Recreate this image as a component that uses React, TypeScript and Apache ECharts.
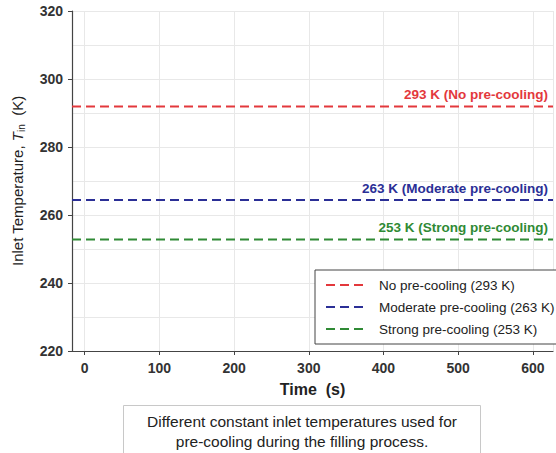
import React, { useEffect, useRef } from "react";
import * as echarts from "echarts";

const timeRange = [-17, 627];
const noPreCooling = [291.9, 291.9];
const moderatePreCooling = [264.4, 264.4];
const strongPreCooling = [252.8, 252.8];

const seriesNames = [
  "No pre-cooling (293 K)",
  "Moderate pre-cooling (263 K)",
  "Strong pre-cooling (253 K)",
];
const annotations = [
  "293 K (No pre-cooling)",
  "263 K (Moderate pre-cooling)",
  "253 K (Strong pre-cooling)",
];
const colors = ["#e3383c", "#2b2f96", "#2f8a35"];
const seriesValues = [noPreCooling, moderatePreCooling, strongPreCooling];

const FONT = "Arial, 'Liberation Sans', Helvetica, sans-serif";

export default function App() {
  const ref = useRef<HTMLDivElement>(null);
  useEffect(() => {
    if (!ref.current) return;
    const chart = echarts.init(ref.current, undefined, { renderer: "svg" });
    const series = seriesValues.map((vals, k) => ({
      name: seriesNames[k],
      type: "line",
      symbol: "none",
      data: timeRange.map((t, i) => [t, vals[i]]),
      lineStyle: { color: colors[k], width: 2, type: [9, 5] },
      itemStyle: { color: colors[k] },
      markPoint: {
        symbol: "rect",
        symbolSize: 0,
        silent: true,
        data: [
          {
            coord: [timeRange[1], vals[vals.length - 1]],
            value: annotations[k],
          },
        ],
        label: {
          show: true,
          position: "top",
          align: "right",
          distance: 5,
          offset: [-5, 0],
          formatter: annotations[k],
          color: colors[k],
          fontWeight: "bold",
          fontSize: 13.5,
          fontFamily: FONT,
        },
      },
    }));
    chart.setOption({
      animation: false,
      backgroundColor: "#fff",
      textStyle: { fontFamily: FONT },
      grid: { left: 72, top: 11, right: 3, bottom: 102, containLabel: false },
      xAxis: {
        type: "value",
        min: timeRange[0],
        max: timeRange[1],
        splitNumber: 5,
        name: "Time  (s)",
        nameLocation: "middle",
        nameGap: 30,
        nameTextStyle: { fontSize: 16, fontWeight: "bold", color: "#222", fontFamily: FONT },
        axisLine: { show: true, onZero: false, lineStyle: { color: "#444", width: 1.2 } },
        axisTick: { show: true, length: 4, lineStyle: { color: "#444" } },
        axisLabel: {
          showMinLabel: false,
          showMaxLabel: false,
          margin: 10,
          fontSize: 14,
          fontWeight: "bold",
          color: "#333",
          fontFamily: FONT,
        },
        splitLine: { show: true, lineStyle: { color: "#e8e8e8", width: 1 } },
      },
      yAxis: {
        type: "value",
        min: 220,
        max: 320,
        interval: 20,
        name: "Inlet Temperature, {i|T}{s|in}  (K)",
        nameLocation: "middle",
        nameGap: 46,
        nameTextStyle: {
          fontSize: 15,
          color: "#222",
          fontFamily: FONT,
          rich: {
            i: { fontSize: 15, fontStyle: "italic", color: "#222", fontFamily: FONT },
            s: { fontSize: 10, color: "#222", fontFamily: FONT, padding: [7, 0, 0, 0] },
          },
        },
        axisLine: { show: true, onZero: false, lineStyle: { color: "#444", width: 1.2 } },
        axisTick: { show: true, length: 4, lineStyle: { color: "#444" } },
        axisLabel: {
          margin: 9,
          fontSize: 14,
          fontWeight: "bold",
          color: "#333",
          fontFamily: FONT,
        },
        splitLine: { show: true, lineStyle: { color: "#e8e8e8", width: 1 } },
        minorTick: { show: false, splitNumber: 2 },
        minorSplitLine: { show: true, lineStyle: { color: "#e8e8e8", width: 1 } },
      },
      legend: {
        orient: "vertical",
        left: 315,
        top: 270,
        padding: [8, 10, 8, 10],
        itemWidth: 40,
        itemHeight: 14,
        itemGap: 8,
        backgroundColor: "#fff",
        borderColor: "#444",
        borderWidth: 1,
        borderRadius: 0,
        data: seriesNames,
        itemStyle: { opacity: 0 },
        textStyle: { fontSize: 13.5, color: "#222", fontFamily: FONT, padding: [0, 0, 0, 8] },
      },
      graphic: [
        {
          type: "group",
          left: 123,
          top: 405,
          children: [
            {
              type: "rect",
              shape: { x: 0, y: 0, width: 357, height: 60 },
              style: { fill: "#fff", stroke: "#c8c8c8", lineWidth: 1 },
            },
            {
              type: "text",
              x: 178.5,
              y: 6,
              style: {
                text: "Different constant inlet temperatures used for\npre-cooling during the filling process.",
                align: "center",
                verticalAlign: "top",
                fontSize: 15.5,
                lineHeight: 20,
                fill: "#222",
                fontFamily: FONT,
              },
            },
          ],
        },
      ],
      series,
    });
    return () => chart.dispose();
  }, []);
  return <div ref={ref} style={{ width: 556, height: 453, position: "absolute", left: 0, top: 0 }} />;
}
